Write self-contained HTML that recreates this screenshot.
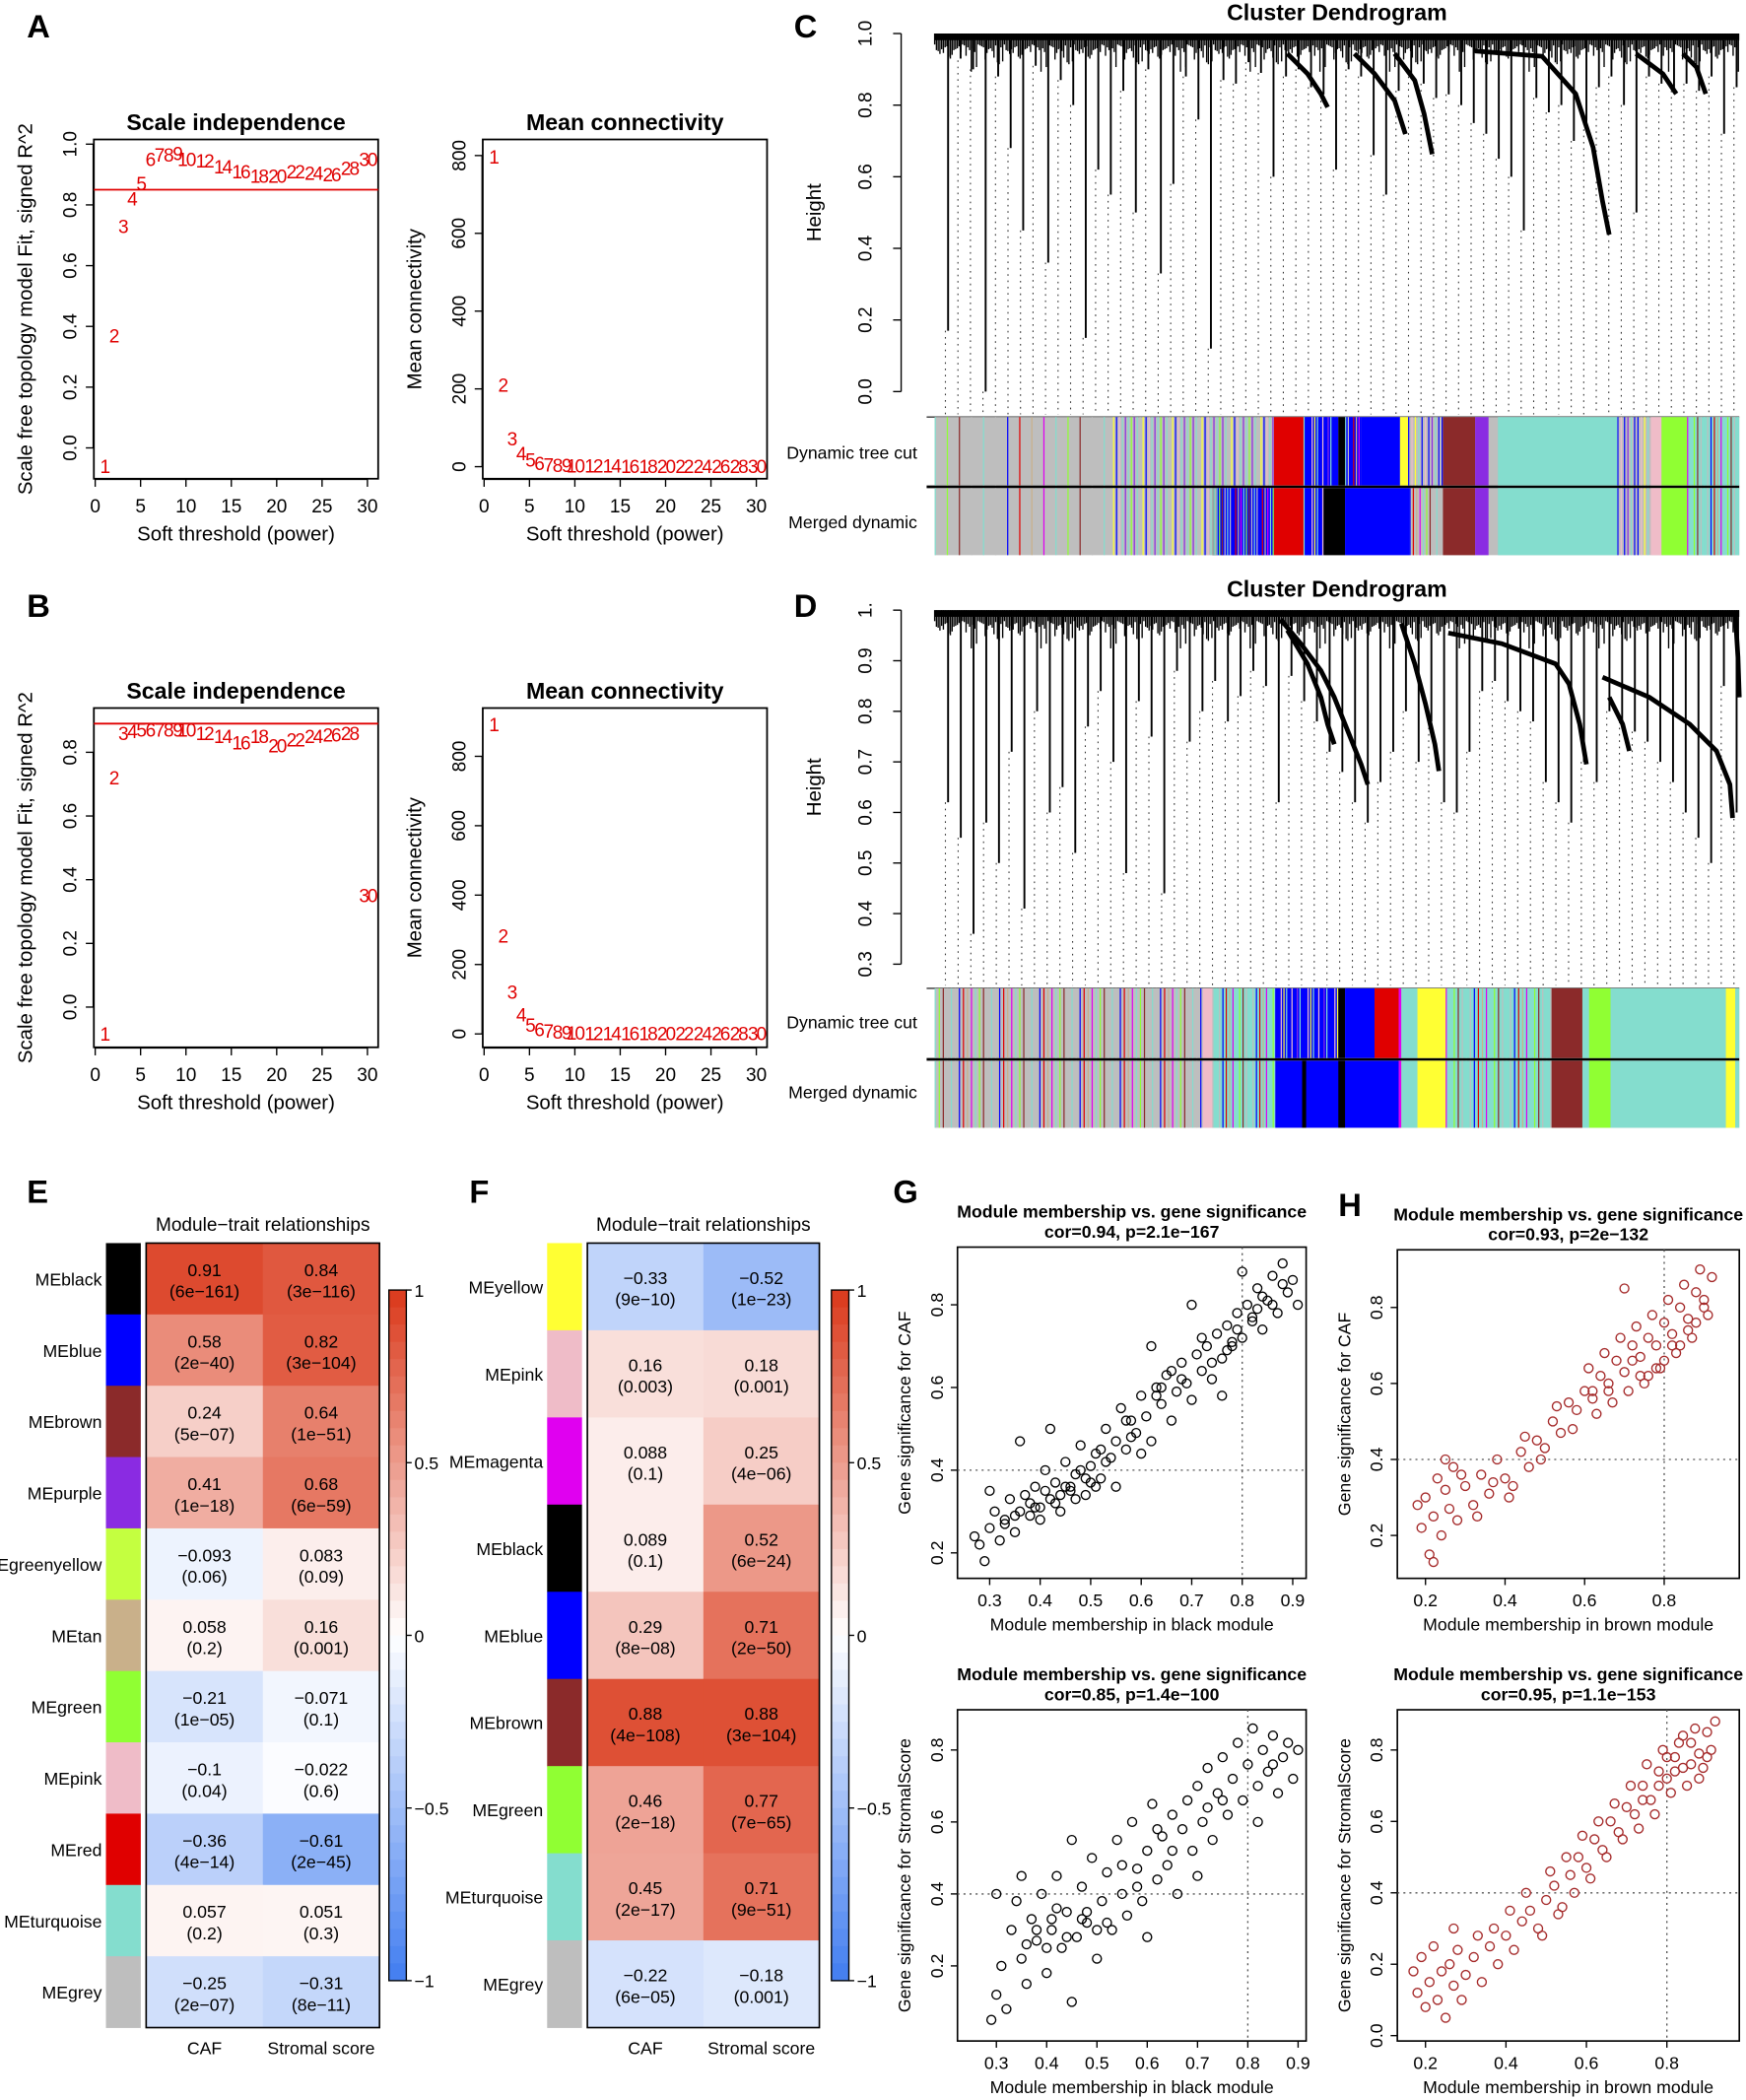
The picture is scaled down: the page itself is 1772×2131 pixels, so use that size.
<!DOCTYPE html>
<html><head><meta charset="utf-8"><style>
html,body{margin:0;padding:0;background:#fff;}
svg{display:block;font-family:"Liberation Sans",Arial,sans-serif;}
</style></head><body>
<svg id="fig" width="1772" height="2131" viewBox="0 0 1302 1566" preserveAspectRatio="none" xmlns="http://www.w3.org/2000/svg">
<rect x="0" y="0" width="1302" height="1566" fill="#fff"/>
<g font-weight="bold" font-size="24" fill="#000">
<text x="20" y="28">A</text>
<text x="20" y="460">B</text>
<text x="592" y="28">C</text>
<text x="592" y="460">D</text>
<text x="20" y="897">E</text>
<text x="350" y="897">F</text>
<text x="666" y="897">G</text>
<text x="998" y="907">H</text>
</g>
</svg>
<script>
// ---------- data ----------
const powers=[1,2,3,4,5,6,7,8,9,10,12,14,16,18,20,22,24,26,28,30];
const aFit=[-0.06,0.37,0.73,0.82,0.87,0.95,0.965,0.965,0.97,0.95,0.945,0.925,0.91,0.895,0.895,0.91,0.905,0.9,0.92,0.95];
const aConn=[797,210,72,34,17,8,5,4,3,2,2,2,1,1,1,1,1,1,1,1];
const bFit=[-0.085,0.72,0.86,0.865,0.87,0.87,0.87,0.87,0.87,0.87,0.86,0.85,0.83,0.85,0.82,0.84,0.85,0.855,0.86,0.35];
const bConn=[892,282,120,55,25,12,8,5,4,3,2,2,1,1,1,1,1,1,1,1];
const aCut=0.85, bCut=0.89;

const eModules=["MEblack","MEblue","MEbrown","MEpurple","Egreenyellow","MEtan","MEgreen","MEpink","MEred","MEturquoise","MEgrey"];
const eColors=["#000000","#0000ff","#8b2a2a","#8a2be2","#c4ff40","#c9b08a","#90ff33","#efbcc8","#e00000","#84ddce","#bebebe"];
const eCAF=[0.91,0.58,0.24,0.41,-0.093,0.058,-0.21,-0.1,-0.36,0.057,-0.25];
const eCAFp=["6e\u2212161","2e\u221240","5e\u221207","1e\u221218","0.06","0.2","1e\u221205","0.04","4e\u221214","0.2","2e\u221207"];
const eStr=[0.84,0.82,0.64,0.68,0.083,0.16,-0.071,-0.022,-0.61,0.051,-0.31];
const eStrp=["3e\u2212116","3e\u2212104","1e\u221251","6e\u221259","0.09","0.001","0.1","0.6","2e\u221245","0.3","8e\u221211"];

const fModules=["MEyellow","MEpink","MEmagenta","MEblack","MEblue","MEbrown","MEgreen","MEturquoise","MEgrey"];
const fColors=["#ffff33","#efbcc8","#e000f0","#000000","#0000ff","#8b2a2a","#90ff33","#84ddce","#bebebe"];
const fCAF=[-0.33,0.16,0.088,0.089,0.29,0.88,0.46,0.45,-0.22];
const fCAFp=["9e\u221210","0.003","0.1","0.1","8e\u221208","4e\u2212108","2e\u221218","2e\u221217","6e\u221205"];
const fStr=[-0.52,0.18,0.25,0.52,0.71,0.88,0.77,0.71,-0.18];
const fStrp=["1e\u221223","0.001","4e\u221206","6e\u221224","2e\u221250","3e\u2212104","7e\u221265","9e\u221251","0.001"];

const gTopMM=[.27,.28,.29,.30,.31,.32,.33,.34,.35,.36,.37,.38,.39,.40,.41,.42,.43,.44,.45,.46,.47,.48,.49,.50,.51,.52,.53,.54,.55,.56,.57,.58,.59,.60,.61,.62,.63,.64,.65,.66,.67,.68,.69,.70,.71,.72,.73,.74,.75,.76,.77,.78,.79,.80,.81,.82,.83,.84,.85,.86,.87,.88,.89,.90,.91,.36,.42,.30,.55,.62,.70,.80,.76,.33,.38,.44,.46,.48,.52,.58,.64,.68,.74,.78,.82,.86,.40,.50,.60,.43,.45,.47,.49,.51,.53,.41,.39,.35,.57,.63,.66,.72,.84,.88,.79,.83,.77];
const gTopGS=[.24,.22,.18,.26,.30,.23,.28,.33,.25,.30,.34,.29,.36,.31,.40,.33,.37,.30,.42,.35,.39,.46,.34,.41,.44,.38,.50,.43,.47,.55,.45,.52,.49,.58,.53,.47,.60,.56,.63,.52,.59,.66,.61,.57,.68,.64,.70,.62,.73,.67,.75,.70,.78,.72,.80,.76,.84,.74,.81,.87,.78,.90,.83,.86,.80,.47,.50,.35,.36,.70,.80,.88,.58,.27,.32,.34,.36,.40,.45,.48,.60,.62,.66,.71,.77,.80,.28,.37,.44,.32,.36,.33,.38,.36,.42,.35,.31,.29,.52,.58,.64,.72,.82,.85,.74,.79,.69];
const gBotMM=[.29,.30,.31,.32,.33,.34,.35,.36,.37,.38,.39,.40,.41,.42,.43,.44,.45,.46,.47,.48,.49,.50,.51,.52,.53,.54,.55,.56,.57,.58,.59,.60,.61,.62,.63,.64,.65,.66,.67,.68,.69,.70,.71,.72,.73,.74,.75,.76,.77,.78,.79,.80,.81,.82,.83,.84,.85,.86,.87,.88,.89,.90,.35,.45,.30,.60,.70,.82,.40,.50,.55,.65,.75,.85,.42,.47,.62,.72,.38,.44,.48,.52,.58,.36,.41];
const gBotGS=[.05,.12,.20,.08,.30,.38,.22,.15,.33,.27,.40,.18,.30,.45,.25,.35,.10,.28,.42,.32,.50,.22,.38,.46,.30,.55,.40,.34,.60,.47,.38,.52,.65,.44,.56,.48,.62,.40,.58,.66,.52,.70,.60,.75,.55,.68,.78,.62,.72,.82,.66,.76,.86,.70,.80,.74,.84,.68,.78,.82,.72,.80,.45,.55,.40,.28,.45,.60,.25,.30,.48,.52,.66,.76,.36,.33,.58,.64,.30,.28,.35,.32,.42,.26,.33];
const hTopMM=[.18,.19,.20,.21,.22,.23,.24,.25,.26,.27,.28,.30,.32,.34,.36,.38,.40,.42,.44,.46,.48,.50,.52,.54,.56,.58,.60,.62,.64,.66,.68,.70,.72,.74,.76,.78,.80,.82,.84,.86,.88,.90,.92,.91,.89,.87,.85,.83,.81,.79,.77,.75,.73,.71,.69,.67,.65,.63,.61,.57,.53,.49,.45,.41,.37,.33,.29,.25,.22,.70,.84,.88,.90,.80,.76,.82,.86,.78,.74,.62,.66,.72];
const hTopGS=[.28,.22,.30,.15,.25,.35,.20,.32,.27,.38,.24,.33,.28,.36,.31,.40,.35,.33,.42,.38,.45,.43,.50,.47,.55,.53,.58,.56,.62,.60,.66,.63,.70,.67,.72,.70,.76,.73,.80,.77,.84,.82,.88,.78,.90,.72,.86,.68,.82,.64,.78,.60,.75,.58,.72,.55,.68,.52,.64,.48,.54,.40,.46,.30,.34,.25,.36,.40,.13,.85,.70,.76,.80,.66,.62,.70,.74,.64,.62,.58,.58,.66];
const hBotMM=[.17,.18,.19,.20,.21,.22,.23,.24,.25,.26,.27,.28,.29,.30,.32,.34,.36,.38,.40,.42,.44,.46,.48,.50,.52,.54,.56,.58,.60,.62,.64,.66,.68,.70,.72,.74,.76,.78,.80,.82,.84,.86,.88,.90,.92,.91,.89,.87,.85,.83,.81,.79,.77,.75,.73,.71,.69,.67,.65,.63,.61,.59,.57,.55,.53,.51,.49,.45,.41,.37,.33,.27,.86,.88,.84,.80,.82,.90,.78,.74];
const hBotGS=[.18,.12,.22,.08,.15,.25,.10,.18,.05,.20,.14,.24,.10,.17,.22,.15,.25,.20,.28,.24,.32,.35,.30,.38,.42,.36,.45,.50,.47,.55,.52,.60,.57,.64,.62,.70,.66,.74,.72,.78,.75,.82,.79,.85,.88,.80,.75,.86,.70,.82,.68,.80,.62,.76,.58,.70,.55,.65,.50,.60,.44,.56,.40,.50,.34,.46,.28,.40,.35,.30,.28,.30,.76,.72,.84,.78,.74,.78,.70,.66];

// dendrogram leaf drop heights (C: left→right), D similarly
const cDrops=[0.17,0.93,0.90,0.0,0.88,0.68,0.45,0.91,0.36,0.87,0.80,0.15,0.62,0.55,0.84,0.50,0.90,0.33,0.58,0.88,0.76,0.12,0.87,0.86,0.92,0.89,0.60,0.88,0.90,0.85,0.83,0.62,0.90,0.88,0.66,0.55,0.84,0.88,0.86,0.82,0.83,0.80,0.75,0.72,0.65,0.60,0.45,0.82,0.78,0.80,0.70,0.75,0.85,0.88,0.80,0.50,0.88,0.86,0.84,0.86,0.84,0.88,0.72,0.85];
const dDrops=[0.62,0.55,0.36,0.58,0.50,0.72,0.41,0.80,0.60,0.65,0.52,0.77,0.84,0.70,0.48,0.82,0.75,0.44,0.88,0.74,0.80,0.86,0.78,0.83,0.88,0.85,0.62,0.87,0.82,0.78,0.72,0.68,0.62,0.58,0.66,0.72,0.80,0.70,0.78,0.62,0.60,0.72,0.84,0.86,0.82,0.80,0.78,0.66,0.62,0.58,0.70,0.66,0.80,0.78,0.76,0.74,0.70,0.66,0.60,0.55,0.50,0.85,0.60];
// fine canopy leaf depths (px below top, cyclic)
const canopyDepth=[6,14,9,22,11,7,18,12,30,8,15,10,25,9,13,6,19,11,8,27,12,16,7,21,10,14,9,35,11,8,17,13,6,24,10,15,9,12,20,7];

// ---------- helpers ----------
const svg=document.getElementById('fig');
const NS='http://www.w3.org/2000/svg';
function mk(tag,attrs,parent){const e=document.createElementNS(NS,tag);for(const k in attrs)e.setAttribute(k,attrs[k]);(parent||svg).appendChild(e);return e;}
function txt(x,y,s,size,opts,parent){const o=Object.assign({x:x,y:y,'font-size':size,fill:'#000'},opts||{});const t=mk('text',o,parent);t.textContent=s;return t;}
function lin(a,b,c,d){return v=>c+(v-a)*(d-c)/(b-a);}

// ---------- soft threshold plots ----------
function stPlot(name,bx,by,title,yLabel,yTicks,yFmt,xs,ys,sx,sy,cut){
  const g=mk('g',{});
  
  
  const bw=212,bh=253;
  const fr=mk('rect',{x:bx,y:by,width:bw,height:bh,fill:'none',stroke:'#000','stroke-width':1.3},g);
  
  const tt=txt(bx+bw/2,by-7,title,17,{'text-anchor':'middle','font-weight':'bold'},g);
  
  [0,5,10,15,20,25,30].forEach(v=>{const x=sx(v);mk('line',{x1:x,x2:x,y1:by+bh,y2:by+bh+6,stroke:'#000'},g);
    const t=txt(x,by+bh+25,String(v),14,{'text-anchor':'middle'},g);});
  mk('line',{x1:sx(0),x2:sx(30),y1:by+bh+0.5,y2:by+bh+0.5,stroke:'#000'},g);
  const xl=txt(bx+bw/2,by+bh+46,'Soft threshold (power)',15,{'text-anchor':'middle'},g);
  
  yTicks.forEach(v=>{const y=sy(v);mk('line',{x1:bx-6,x2:bx,y1:y,y2:y,stroke:'#000'},g);
    const t=txt(bx-13,y,yFmt(v),14,{'text-anchor':'middle',transform:`rotate(-90 ${bx-13} ${y})`},g);});
  mk('line',{x1:bx-0.5,x2:bx-0.5,y1:sy(yTicks[0]),y2:sy(yTicks[yTicks.length-1]),stroke:'#000'},g);
  const yl=txt(bx-46,by+bh/2,yLabel,15,{'text-anchor':'middle',transform:`rotate(-90 ${bx-46} ${by+bh/2})`},g);
  
  if(cut!==null){const l=mk('line',{x1:bx,x2:bx+bw,y1:sy(cut),y2:sy(cut),stroke:'#e00000','stroke-width':1.3},g);}
  xs.forEach((p,i)=>{const t=txt(sx(p),sy(ys[i])+5,String(p),14,{'text-anchor':'middle',fill:'#e00000','letter-spacing':'-1.5'},g);
    });
}
const sxA=lin(0,30,71,274), sxM=lin(0,30,361,564);
stPlot('scale-independence-a',70,104,'Scale independence','Scale free topology model Fit, signed R^2',[0,0.2,0.4,0.6,0.8,1.0],v=>v.toFixed(1),powers,aFit,sxA,lin(0,1,334,107.5),aCut);
stPlot('mean-connectivity-a',360,104,'Mean connectivity','Mean connectivity',[0,200,400,600,800],v=>String(v),powers,aConn,sxM,lin(0,800,348,116),null);
stPlot('scale-independence-b',70,528,'Scale independence','Scale free topology model Fit, signed R^2',[0,0.2,0.4,0.6,0.8],v=>v.toFixed(1),powers,bFit,sxA,lin(0,0.8,751,561),bCut);
stPlot('mean-connectivity-b',360,528,'Mean connectivity','Mean connectivity',[0,200,400,600,800],v=>String(v),powers,bConn,sxM,lin(0,800,771,564),null);

// ---------- dendrograms ----------
const modCol={grey:'#bebebe',blue:'#0000ff',purple:'#8a2be2',pink:'#efbcc8',turq:'#84ddce',green:'#90ff33',yellow:'#ffff33',red:'#e00000',brown:'#8b2a2a',black:'#000',magenta:'#e000f0',tan:'#c9b08a',gy:'#c4ff40'};
const noiseKeys=['blue','turq','purple','pink','grey','turq','yellow','blue','green','turq','red','purple','blue','tan','turq','pink','magenta','grey','blue','turq','yellow','purple','green','blue','turq','brown','pink','blue','grey','turq'];
function colorBar(name,x0,x1,y,h,blocks,noise){
  const g=mk('g',{});
  
  
  mk('rect',{x:x0,y:y,width:x1-x0,height:h,fill:modCol.grey},g);
  noise.forEach(([a,b,dens,base])=>{
    if(base) mk('rect',{x:a,y:y,width:b-a,height:h,fill:modCol[base]},g);
    let k=Math.round(a*7)%noiseKeys.length;
    for(let x=a;x<b;x+=dens){const c=noiseKeys[k%noiseKeys.length];k+=3;
      mk('rect',{x:x,y:y,width:0.9,height:h,fill:modCol[c]},g);}
  });
  blocks.forEach(([a,b,c])=>mk('rect',{x:a,y:y,width:b-a,height:h,fill:modCol[c]},g));
}
function dendro(name,x0,x1,yTop,ySc,drops,branches,axisTicks,axisFmt,ybar0,ybar1){
  const g=mk('g',{});
  
  
  const tt=txt((x0+x1)/2,yTop-10,'Cluster Dendrogram',17,{'text-anchor':'middle','font-weight':'bold'},g);
  
  axisTicks.forEach(v=>{const y=ySc(v);mk('line',{x1:666,x2:672,y1:y,y2:y,stroke:'#000'},g);
    const t=txt(650,y,axisFmt(v),14,{'text-anchor':'middle',transform:`rotate(-90 650 ${y})`},g);});
  mk('line',{x1:672,x2:672,y1:ySc(axisTicks[0]),y2:ySc(axisTicks[axisTicks.length-1]),stroke:'#000'},g);
  const my=(ySc(axisTicks[0])+ySc(axisTicks[axisTicks.length-1]))/2;
  const yl=txt(612,my,'Height',15,{'text-anchor':'middle',transform:`rotate(-90 612 ${my})`},g);
  
  const n=drops.length, step=(x1-x0-12)/(n-1);
  drops.forEach((h,i)=>{const x=x0+8+i*step;const yb=ySc(h);
    mk('line',{x1:x,x2:x,y1:Math.max(yb,yTop+20),y2:ybar0-2,stroke:'#333','stroke-width':0.8,'stroke-dasharray':'1.2,3.5'},g);
    const s=mk('line',{x1:x+2,x2:x+2,y1:yTop+5,y2:yb,stroke:'#000','stroke-width':1.4},g);
    });
  // fine canopy
  let k=0;
  for(let x=x0;x<x1;x+=1.3){const d=canopyDepth[k%canopyDepth.length];k+=7;
    mk('line',{x1:x,x2:x,y1:yTop,y2:yTop+4+d*0.7,stroke:'#000','stroke-width':1},g);}
  mk('rect',{x:x0,y:yTop,width:x1-x0,height:5,fill:'#000'},g);
  branches.forEach(p=>{const b=mk('polyline',{points:p,fill:'none',stroke:'#000','stroke-width':3.5,'stroke-linejoin':'round'},g);
    });
  mk('line',{x1:x0-6,x2:x1,y1:ybar0,y2:ybar0,stroke:'#333','stroke-width':1},g);
  mk('line',{x1:x0-6,x2:x1,y1:ybar1,y2:ybar1,stroke:'#000','stroke-width':2},g);
}
// C
const yC=lin(0,1,292,25);
dendro('dendrogram-c',697,1297,25,yC,cDrops,[
 "960,40 975,55 985,70 990,80",
 "1010,40 1025,55 1040,75 1048,100",
 "1040,40 1055,60 1062,85 1068,115",
 "1100,38 1150,42 1175,70 1188,110 1195,150 1200,175",
 "1220,40 1240,55 1250,70",
 "1255,40 1265,50 1272,70"],
 [0,0.2,0.4,0.6,0.8,1.0],v=>v.toFixed(1),311,363);
txt(684,342,'Dynamic tree cut',13,{'text-anchor':'end'});
txt(684,394,'Merged dynamic',13,{'text-anchor':'end'});
colorBar('colorbar-c-dynamic',697,1297,311,51,[[950,972,'red'],[998,1003,'black'],[1015,1044,'blue'],[1044,1050,'yellow'],[1076,1100,'brown'],[1100,1110,'purple'],[1117,1206,'turq'],[1231,1239,'pink'],[1239,1258,'green']],
 [[697,830,9,null],[830,950,2.2,null],[972,998,2,'blue'],[1003,1015,2,'blue'],[1050,1076,2.5,null],[1206,1231,2.5,null],[1258,1297,2.5,'turq']]);
colorBar('colorbar-c-merged',697,1297,364,50,[[950,972,'red'],[987,1003,'black'],[1003,1051,'blue'],[1076,1100,'brown'],[1100,1110,'purple'],[1117,1206,'turq'],[1231,1239,'pink'],[1239,1258,'green']],
 [[697,830,9,null],[830,904,2.2,null],[904,907,1,'black'],[907,950,2,'blue'],[972,987,2,'blue'],[1051,1076,2.5,null],[1206,1231,2.5,null],[1258,1297,2.5,'turq']]);
// D
const yD=lin(0.3,1.0,719,455);
dendro('dendrogram-d',697,1297,455,yD,dDrops,[
 "955,462 970,480 985,500 995,520 1005,545 1015,570 1020,585",
 "960,470 975,495 985,520 990,540 995,555",
 "1045,465 1055,495 1063,525 1070,555 1073,575",
 "1080,472 1120,480 1160,495 1170,510 1178,540 1183,570",
 "1195,505 1230,520 1260,540 1280,560 1290,585 1292,610",
 "1200,520 1210,540 1215,560",
 "1294,458 1296,490 1297,520"],
 [0.3,0.4,0.5,0.6,0.7,0.8,0.9,1.0],v=>v===1?'1.':v.toFixed(1),737,790);
txt(684,767,'Dynamic tree cut',13,{'text-anchor':'end'});
txt(684,819,'Merged dynamic',13,{'text-anchor':'end'});
colorBar('colorbar-d-dynamic',697,1297,737,52,[[897,904,'pink'],[998,1003,'black'],[1003,1025,'blue'],[1025,1043,'red'],[1043,1045,'magenta'],[1045,1057,'turq'],[1057,1078,'yellow'],[1157,1180,'brown'],[1180,1185,'turq'],[1185,1201,'green'],[1201,1287,'turq'],[1287,1294,'yellow'],[1294,1297,'turq']],
 [[697,897,3,null],[904,951,2.5,'turq'],[951,998,2,'blue'],[1078,1157,3,'turq']]);
colorBar('colorbar-d-merged',697,1297,791,50,[[897,904,'pink'],[951,1043,'blue'],[971,974,'black'],[998,1003,'black'],[1043,1045,'magenta'],[1045,1057,'turq'],[1057,1078,'yellow'],[1157,1180,'brown'],[1180,1185,'turq'],[1185,1201,'green'],[1201,1287,'turq'],[1287,1294,'yellow'],[1294,1297,'turq']],
 [[697,897,3,null],[904,951,2.5,'turq'],[1078,1157,3,'turq']]);

// ---------- heatmaps ----------
function heatColor(v){
  const lo=[65,125,240],hi=[218,56,26];
  const t=Math.min(1,Math.abs(v)); const e=v<0?lo:hi;
  const c=[0,1,2].map(i=>Math.round(255+(e[i]-255)*t));
  return `rgb(${c[0]},${c[1]},${c[2]})`;
}
function heatmap(name,stripX,gx,gy,gw,gh,mods,cols,caf,cafp,str,strp,cbx,cby0,cby1){
  const g=mk('g',{});
  
  
  const n=mods.length, rh=gh/n, cw=gw/2;
  const tt=txt(gx+gw/2,gy-9,'Module\u2212trait relationships',14,{'text-anchor':'middle'},g);
  
  mods.forEach((m,i)=>{
    const y=gy+i*rh;
    const s=mk('rect',{x:stripX,y:y,width:26,height:rh+0.3,fill:cols[i]},g);
    
    const l=txt(stripX-3,y+rh/2+5,m,13,{'text-anchor':'end'},g);
    
    [[caf,cafp],[str,strp]].forEach(([vals,ps],j)=>{
      const c=mk('rect',{x:gx+j*cw,y:y,width:cw+0.3,height:rh+0.3,fill:heatColor(vals[i])},g);
      
      const v=vals[i]; const vs=(v<0?'\u2212':'')+String(Math.abs(v));
      const cx=gx+j*cw+cw/2;
      txt(cx,y+rh/2-2,vs,13,{'text-anchor':'middle'},g);
      txt(cx,y+rh/2+14,'('+ps[i]+')',13,{'text-anchor':'middle'},g);
    });
  });
  mk('rect',{x:gx,y:gy,width:gw,height:gh,fill:'none',stroke:'#000','stroke-width':1.2},g);
  const xl1=txt(gx+cw/2,gy+gh+20,'CAF',13,{'text-anchor':'middle'},g);
  
  const xl2=txt(gx+cw*1.5,gy+gh+20,'Stromal score',13,{'text-anchor':'middle'},g);
  
  const steps=40, bh=(cby1-cby0)/steps;
  for(let k=0;k<steps;k++){const v=1-2*(k+0.5)/steps;mk('rect',{x:cbx,y:cby0+k*bh,width:13,height:bh+0.4,fill:heatColor(v)},g);}
  mk('rect',{x:cbx,y:cby0,width:13,height:cby1-cby0,fill:'none',stroke:'#000','stroke-width':1},g);
  [1,0.5,0,-0.5,-1].forEach(v=>{const y=cby0+(1-v)/2*(cby1-cby0);
    mk('line',{x1:cbx+13,x2:cbx+17,y1:y,y2:y,stroke:'#000'},g);
    txt(cbx+19,y+5,v===0?'0':(v<0?'\u2212':'')+String(Math.abs(v)),13,{},g);});
}
heatmap('heatmap-e',79,109,927,174,585,eModules,eColors,eCAF,eCAFp,eStr,eStrp,290,962,1477);
heatmap('heatmap-f',408,438,927,173,585,fModules,fColors,fCAF,fCAFp,fStr,fStrp,620,962,1477);

// ---------- scatter plots ----------
function scatter(name,bx,by,bw,bh,t1,t2,xl,yl,xs,ys,xTicks,yTicks,sx,sy,col){
  const g=mk('g',{});
  
  
  txt(bx+bw/2,by-22,t1,13,{'text-anchor':'middle','font-weight':'bold'},g);
  txt(bx+bw/2,by-7,t2,13,{'text-anchor':'middle','font-weight':'bold'},g);
  mk('rect',{x:bx,y:by,width:bw,height:bh,fill:'none',stroke:'#000','stroke-width':1.2},g);
  mk('line',{x1:sx(0.8),x2:sx(0.8),y1:by,y2:by+bh,stroke:'#555','stroke-dasharray':'1.5,3'},g);
  mk('line',{x1:bx,x2:bx+bw,y1:sy(0.4),y2:sy(0.4),stroke:'#555','stroke-dasharray':'1.5,3'},g);
  xTicks.forEach(v=>{const x=sx(v);mk('line',{x1:x,x2:x,y1:by+bh,y2:by+bh+5,stroke:'#000'},g);
    txt(x,by+bh+21,v.toFixed(1),13,{'text-anchor':'middle'},g);});
  yTicks.forEach(v=>{const y=sy(v);mk('line',{x1:bx-5,x2:bx,y1:y,y2:y,stroke:'#000'},g);
    txt(bx-11,y,v.toFixed(1),13,{'text-anchor':'middle',transform:`rotate(-90 ${bx-11} ${y})`},g);});
  txt(bx+bw/2,by+bh+39,xl,13,{'text-anchor':'middle'},g);
  txt(bx-35,by+bh/2,yl,13,{'text-anchor':'middle',transform:`rotate(-90 ${bx-35} ${by+bh/2})`},g);
  xs.forEach((x,i)=>{const c=mk('circle',{cx:sx(x),cy:sy(ys[i]),r:3.3,fill:'none',stroke:col,'stroke-width':1},g);
    
    });
}
scatter('scatter-g-caf',714,930,260,247,'Module membership vs. gene significance','cor=0.94, p=2.1e\u2212167','Module membership in black module','Gene significance for CAF',gTopMM,gTopGS,[.3,.4,.5,.6,.7,.8,.9],[.2,.4,.6,.8],lin(0.3,0.9,738,964),lin(0.2,0.8,1158,973),'#000');
scatter('scatter-g-stromal',714,1275,260,247,'Module membership vs. gene significance','cor=0.85, p=1.4e\u2212100','Module membership in black module','Gene significance for StromalScore',gBotMM,gBotGS,[.3,.4,.5,.6,.7,.8,.9],[.2,.4,.6,.8],lin(0.3,0.9,743,968),lin(0.2,0.8,1466,1305),'#000');
scatter('scatter-h-caf',1042,932,255,245,'Module membership vs. gene significance','cor=0.93, p=2e\u2212132','Module membership in brown module','Gene significance for CAF',hTopMM,hTopGS,[.2,.4,.6,.8],[.2,.4,.6,.8],lin(0.2,0.8,1063,1241),lin(0.2,0.8,1145,975),'#a52a2a');
scatter('scatter-h-stromal',1042,1275,255,247,'Module membership vs. gene significance','cor=0.95, p=1.1e\u2212153','Module membership in brown module','Gene significance for StromalScore',hBotMM,hBotGS,[.2,.4,.6,.8],[0,.2,.4,.6,.8],lin(0.2,0.8,1063,1243),lin(0,0.8,1518,1305),'#a52a2a');
</script>
</body></html>
